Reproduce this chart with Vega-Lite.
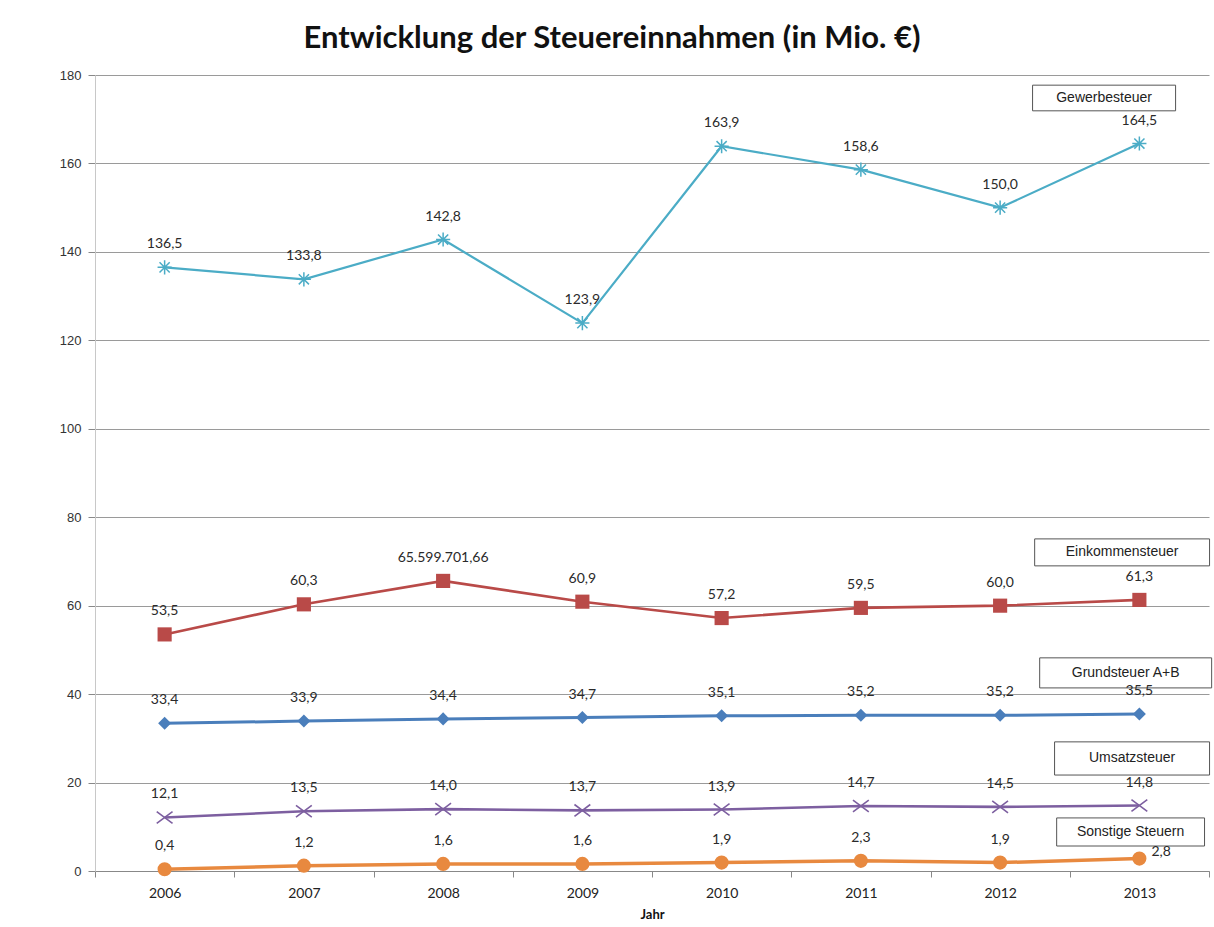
{
  "$schema": "https://vega.github.io/schema/vega-lite/v6.json",
  "width": 1114,
  "height": 796,
  "autosize": "none",
  "padding": {"left": 95, "top": 75, "right": 5, "bottom": 56},
  "background": "white",
  "config": {"view": {"stroke": null}},
  "title": {
    "text": "Entwicklung der Steuereinnahmen (in Mio. €)",
    "font": "Lato",
    "fontSize": 31,
    "fontWeight": "bold",
    "color": "#111111",
    "anchor": "middle",
    "dx": -40,
    "offset": 14
  },
  "datasets": {
    "series": [
      {"series": "Gewerbesteuer", "year": 2006, "value": 136.5, "label": "136,5"},
      {"series": "Gewerbesteuer", "year": 2007, "value": 133.8, "label": "133,8"},
      {"series": "Gewerbesteuer", "year": 2008, "value": 142.8, "label": "142,8"},
      {"series": "Gewerbesteuer", "year": 2009, "value": 123.9, "label": "123,9"},
      {"series": "Gewerbesteuer", "year": 2010, "value": 163.9, "label": "163,9"},
      {"series": "Gewerbesteuer", "year": 2011, "value": 158.6, "label": "158,6"},
      {"series": "Gewerbesteuer", "year": 2012, "value": 150.0, "label": "150,0"},
      {"series": "Gewerbesteuer", "year": 2013, "value": 164.5, "label": "164,5"},
      {"series": "Einkommensteuer", "year": 2006, "value": 53.5, "label": "53,5"},
      {"series": "Einkommensteuer", "year": 2007, "value": 60.3, "label": "60,3"},
      {"series": "Einkommensteuer", "year": 2008, "value": 65.6, "label": "65.599.701,66"},
      {"series": "Einkommensteuer", "year": 2009, "value": 60.9, "label": "60,9"},
      {"series": "Einkommensteuer", "year": 2010, "value": 57.2, "label": "57,2"},
      {"series": "Einkommensteuer", "year": 2011, "value": 59.5, "label": "59,5"},
      {"series": "Einkommensteuer", "year": 2012, "value": 60.0, "label": "60,0"},
      {"series": "Einkommensteuer", "year": 2013, "value": 61.3, "label": "61,3"},
      {"series": "Grundsteuer A+B", "year": 2006, "value": 33.4, "label": "33,4"},
      {"series": "Grundsteuer A+B", "year": 2007, "value": 33.9, "label": "33,9"},
      {"series": "Grundsteuer A+B", "year": 2008, "value": 34.4, "label": "34,4"},
      {"series": "Grundsteuer A+B", "year": 2009, "value": 34.7, "label": "34,7"},
      {"series": "Grundsteuer A+B", "year": 2010, "value": 35.1, "label": "35,1"},
      {"series": "Grundsteuer A+B", "year": 2011, "value": 35.2, "label": "35,2"},
      {"series": "Grundsteuer A+B", "year": 2012, "value": 35.2, "label": "35,2"},
      {"series": "Grundsteuer A+B", "year": 2013, "value": 35.5, "label": "35,5"},
      {"series": "Umsatzsteuer", "year": 2006, "value": 12.1, "label": "12,1"},
      {"series": "Umsatzsteuer", "year": 2007, "value": 13.5, "label": "13,5"},
      {"series": "Umsatzsteuer", "year": 2008, "value": 14.0, "label": "14,0"},
      {"series": "Umsatzsteuer", "year": 2009, "value": 13.7, "label": "13,7"},
      {"series": "Umsatzsteuer", "year": 2010, "value": 13.9, "label": "13,9"},
      {"series": "Umsatzsteuer", "year": 2011, "value": 14.7, "label": "14,7"},
      {"series": "Umsatzsteuer", "year": 2012, "value": 14.5, "label": "14,5"},
      {"series": "Umsatzsteuer", "year": 2013, "value": 14.8, "label": "14,8"},
      {"series": "Sonstige Steuern", "year": 2006, "value": 0.4, "label": "0,4"},
      {"series": "Sonstige Steuern", "year": 2007, "value": 1.2, "label": "1,2"},
      {"series": "Sonstige Steuern", "year": 2008, "value": 1.6, "label": "1,6"},
      {"series": "Sonstige Steuern", "year": 2009, "value": 1.6, "label": "1,6"},
      {"series": "Sonstige Steuern", "year": 2010, "value": 1.9, "label": "1,9"},
      {"series": "Sonstige Steuern", "year": 2011, "value": 2.3, "label": "2,3"},
      {"series": "Sonstige Steuern", "year": 2012, "value": 1.9, "label": "1,9"},
      {"series": "Sonstige Steuern", "year": 2013, "value": 2.8, "label": "2,8"}
    ],
    "boxes": [
      {"series": "Gewerbesteuer", "x1": 2012.233, "x2": 2013.26, "y1": 171.9, "y2": 177.7, "font": "Lato"},
      {"series": "Einkommensteuer", "x1": 2012.248, "x2": 2013.504, "y1": 69.0, "y2": 75.1, "font": "Lato"},
      {"series": "Grundsteuer A+B", "x1": 2012.284, "x2": 2013.519, "y1": 41.4, "y2": 48.2, "font": "Liberation Sans"},
      {"series": "Umsatzsteuer", "x1": 2012.391, "x2": 2013.504, "y1": 21.7, "y2": 29.2, "font": "Liberation Sans"},
      {"series": "Sonstige Steuern", "x1": 2012.406, "x2": 2013.468, "y1": 5.65, "y2": 12.0, "font": "Liberation Sans"}
    ]
  },
  "encoding": {
    "x": {
      "field": "year",
      "type": "quantitative",
      "scale": {"domain": [2005.5, 2013.5], "nice": false, "zero": false},
      "axis": {
        "values": [2005.5, 2006, 2006.5, 2007, 2007.5, 2008, 2008.5, 2009, 2009.5, 2010, 2010.5, 2011, 2011.5, 2012, 2012.5, 2013, 2013.5],
        "labelExpr": "datum.value % 1 === 0 ? format(datum.value, 'd') : ''",
        "grid": false,
        "tickSize": 6,
        "tickColor": "#888888",
        "tickOpacity": {"condition": {"test": "datum.value % 1 !== 0", "value": 1}, "value": 0},
        "domainColor": "#888888",
        "labelFont": "Lato",
        "labelFontSize": 14,
        "labelColor": "#222222",
        "labelPadding": 9,
        "title": "Jahr",
        "titleFont": "Lato",
        "titleFontSize": 13,
        "titleFontWeight": "bold",
        "titleColor": "#111111",
        "titlePadding": 8
      }
    },
    "y": {
      "field": "value",
      "type": "quantitative",
      "scale": {"domain": [0, 180], "nice": false},
      "axis": {
        "values": [0, 20, 40, 60, 80, 100, 120, 140, 160, 180],
        "grid": true,
        "gridColor": "#9a9a9a",
        "tickSize": 7,
        "tickColor": "#888888",
        "domainColor": "#c8c8c8",
        "labelFont": "Liberation Sans",
        "labelFontSize": 13,
        "labelColor": "#333333",
        "labelPadding": 7,
        "title": null
      }
    }
  },
  "layer": [
    {
      "data": {"name": "boxes"},
      "mark": {"type": "rect", "fill": "white", "stroke": "#555555", "strokeWidth": 1},
      "encoding": {
        "x": {"field": "x1", "type": "quantitative"},
        "x2": {"field": "x2"},
        "y": {"field": "y1", "type": "quantitative"},
        "y2": {"field": "y2"}
      }
    },
    {
      "data": {"name": "boxes"},
      "transform": [{"calculate": "(datum.x1 + datum.x2) / 2", "as": "xc"}, {"calculate": "(datum.y1 + datum.y2) / 2", "as": "yc"}],
      "mark": {"type": "text", "fontSize": 14, "color": "#222222", "baseline": "middle", "align": "center"},
      "encoding": {
        "x": {"field": "xc", "type": "quantitative"},
        "y": {"field": "yc", "type": "quantitative"},
        "text": {"field": "series"},
        "font": {"field": "font", "type": "nominal", "scale": null, "legend": null}
      }
    },
    {
      "data": {"name": "series"},
      "mark": {"type": "line"},
      "encoding": {
        "color": {"field": "series", "type": "nominal", "legend": null,
          "scale": {"domain": ["Gewerbesteuer", "Einkommensteuer", "Grundsteuer A+B", "Umsatzsteuer", "Sonstige Steuern"],
                    "range": ["#4BACC6", "#B94A48", "#4A7EBB", "#7D5FA0", "#E8893F"]}},
        "strokeWidth": {"field": "series", "type": "nominal", "legend": null,
          "scale": {"type": "ordinal", "domain": ["Gewerbesteuer", "Einkommensteuer", "Grundsteuer A+B", "Umsatzsteuer", "Sonstige Steuern"],
                    "range": [2.2, 2.6, 3, 2.6, 3.5]}}
      }
    },
    {
      "data": {"name": "series"},
      "transform": [{"filter": "datum.series === 'Gewerbesteuer'"}],
      "mark": {"type": "point", "filled": false, "opacity": 1, "strokeWidth": 1.5, "color": "#4BACC6", "size": 200,
               "shape": "M-1,0L1,0M0,-1L0,1M-0.72,-0.72L0.72,0.72M-0.72,0.72L0.72,-0.72"}
    },
    {
      "data": {"name": "series"},
      "transform": [{"filter": "datum.series === 'Einkommensteuer'"}],
      "mark": {"type": "point", "filled": true, "opacity": 1, "color": "#B94A48", "size": 200, "shape": "square"}
    },
    {
      "data": {"name": "series"},
      "transform": [{"filter": "datum.series === 'Grundsteuer A+B'"}],
      "mark": {"type": "point", "filled": true, "opacity": 1, "color": "#4A7EBB", "size": 170, "shape": "diamond"}
    },
    {
      "data": {"name": "series"},
      "transform": [{"filter": "datum.series === 'Umsatzsteuer'"}],
      "mark": {"type": "point", "filled": false, "opacity": 1, "strokeWidth": 1.6, "color": "#7D5FA0", "size": 250,
               "shape": "M-1,-0.75L1,0.75M-1,0.75L1,-0.75"}
    },
    {
      "data": {"name": "series"},
      "transform": [{"filter": "datum.series === 'Sonstige Steuern'"}],
      "mark": {"type": "point", "filled": true, "opacity": 1, "color": "#E8893F", "size": 200, "shape": "circle"}
    },
    {
      "data": {"name": "series"},
      "transform": [{"filter": "!(datum.series === 'Sonstige Steuern' && datum.year === 2013)"}],
      "mark": {"type": "text", "dy": -23, "font": "Lato", "fontSize": 14, "color": "#2a2a2a", "baseline": "middle", "align": "center"},
      "encoding": {"text": {"field": "label"}}
    },
    {
      "data": {"name": "series"},
      "transform": [{"filter": "datum.series === 'Sonstige Steuern' && datum.year === 2013"}],
      "mark": {"type": "text", "dx": 12, "dy": -7, "font": "Lato", "fontSize": 14, "color": "#2a2a2a", "baseline": "middle", "align": "left"},
      "encoding": {"text": {"field": "label"}}
    }
  ]
}
